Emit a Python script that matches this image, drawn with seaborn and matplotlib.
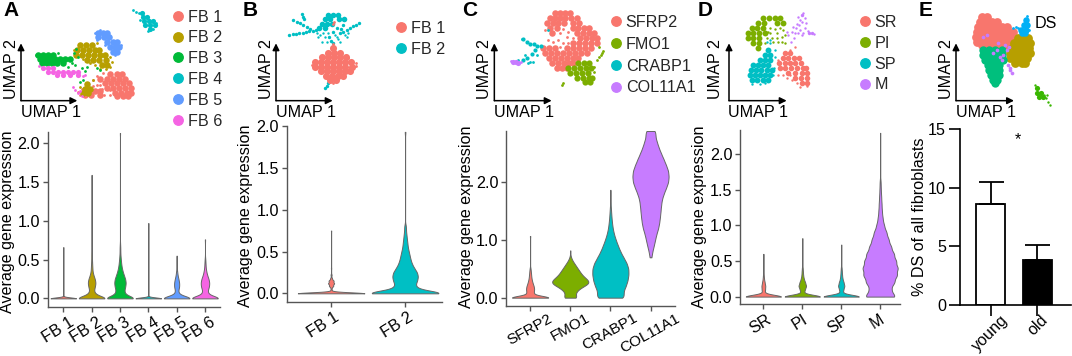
import matplotlib
matplotlib.use("Agg")
import matplotlib.pyplot as plt
from matplotlib.lines import Line2D
from matplotlib.transforms import ScaledTranslation
import numpy as np
import seaborn as sns

RED, OLIVE, GREEN, TEAL, BLUE, PINK = "#F8766D", "#B79F00", "#00BA38", "#00BFC4", "#619CFF", "#F564E3"
C_OLIVE, C_PURPLE = "#7CAE00", "#C77CFF"

# ---- violin data: expression level and number of cells at that level
a_cats = ["FB 1", "FB 2", "FB 3", "FB 4", "FB 5", "FB 6"]
a_colors = [RED, OLIVE, GREEN, TEAL, BLUE, PINK]
a_vals = [
    [0, 0.66],
    [0, .05, .1, .15, .2, .25, .3, .35, .4, .45, .5, .55, .6, .7, 1.59],
    [0, .05, .1, .15, .2, .25, .3, .35, .4, .45, .5, .55, .6, .65, .7, 2.13],
    [0, 0.97],
    [0, .05, .1, .15, .2, .25, .3, .35, .55],
    [0, .05, .1, .15, .2, .25, .3, .35, .4, .45, .5, .76],
]
a_counts = [
    [100, 1],
    [100, 22, 12, 18, 22, 18, 10, 5, 4, 3, 2, 2, 1, 1, 1],
    [100, 30, 24, 30, 33, 30, 22, 15, 10, 7, 5, 3, 2, 2, 1, 1],
    [100, 1],
    [100, 12, 8, 14, 14, 10, 5, 3, 1],
    [100, 18, 14, 22, 24, 20, 12, 7, 4, 3, 2, 1],
]
a_bw = [.012, .03, .03, .012, .03, .03]

b_cats = ["FB 1", "FB 2"]
b_colors = [RED, TEAL]
b_vals = [
    [0, .03, .06, .09, .12, .15, .18, .22, .3, .75],
    [0, .05, .1, .15, .2, .25, .3, .35, .4, .45, .5, .55, .6, .65, .7, .75, .8, 1.93],
]
b_counts = [
    [200, 4, 3, 12, 17, 14, 5, 3, 1, 1],
    [100, 28, 22, 26, 28, 26, 20, 15, 12, 10, 8, 6, 5, 4, 3, 2, 2, 1],
]
b_bw = [.012, .03]

c_cats = ["SFRP2", "FMO1", "CRABP1", "COL11A1"]
c_colors = [RED, C_OLIVE, TEAL, C_PURPLE]
c_vals = [
    [0, .05, .1, .15, .2, .25, .3, .35, .4, .45, .5, 1.07],
    [0, .05, .1, .15, .2, .25, .3, .35, .4, .45, .5, .55, .6, .65, .7, .82],
    [0, .1, .2, .3, .4, .5, .6, .7, .8, .9, 1.0, 1.1, 1.2, 1.3, 1.4, 1.5, 1.6, 1.87],
    [.7, .8, .9, 1, 1.1, 1.2, 1.3, 1.4, 1.5, 1.6, 1.7, 1.8, 1.9, 2, 2.1, 2.2, 2.3, 2.4, 2.5, 2.6, 2.7, 2.8, 2.89],
]
c_counts = [
    [100, 14, 14, 16, 14, 10, 7, 5, 4, 3, 2, 1],
    [42, 25, 30, 45, 70, 100, 95, 75, 60, 50, 40, 30, 20, 10, 4, 1],
    [80, 70, 85, 95, 100, 100, 90, 72, 55, 42, 30, 20, 13, 9, 6, 4, 2, 1],
    [5, 10, 18, 25, 32, 42, 48, 52, 55, 58, 62, 72, 85, 97, 100, 97, 85, 72, 58, 45, 35, 25, 25],
]
c_bw = [.03, .04, .06, .06]

d_cats = ["SR", "PI", "SP", "M"]
d_colors = [RED, C_OLIVE, TEAL, C_PURPLE]
d_vals = [
    [0, .05, .1, .15, .2, .25, .3, .6],
    [0, .05, .1, .15, .2, .25, .3, .35, .4, .82],
    [0, .05, .1, .15, .2, .25, .3, .35, .4, .73],
    [0, .1, .2, .3, .4, .5, .6, .7, .8, .9, 1, 1.1, 1.2, 1.3, 1.4, 1.5, 1.6, 2.3],
]
d_counts = [
    [100, 5, 8, 9, 6, 3, 2, 1],
    [100, 6, 12, 18, 13, 7, 4, 3, 2, 1],
    [100, 6, 10, 15, 11, 6, 4, 3, 2, 1],
    [90, 60, 80, 95, 100, 90, 78, 62, 48, 36, 22, 14, 10, 8, 6, 4, 3, 1],
]
d_bw = [.025, .025, .025, .05]

# ---- bar panel
e_groups = ["young", "old"]
e_means = [8.65, 3.85]
e_errs = [1.85, 1.3]

# ---- UMAP clouds, arbitrary embedding units; dense parts as (row, [positions in that row])
a_fb1_rows = [(222, [330, 350, 365]), (236, [300, 320, 340, 358, 376]), (250, [316, 334, 352, 370, 386]),
              (264, [320, 338, 356, 374, 392]), (278, [345, 362, 380, 392]), (288, [350, 368, 385]),
              (272, [268, 284, 300]), (284, [255, 272, 300])]
a_fb1_dots = [(235, 275), (280, 240), (290, 228), (310, 218), (262, 262), (245, 268), (300, 255), (330, 285), (290, 255),
              (312, 285), (278, 258), (305, 268), (318, 265), (240, 285), (330, 270)]
a_fb2_rows = [(135, [240, 258, 275]), (150, [230, 248, 266, 284, 298]), (165, [228, 246, 264, 282, 300, 315]),
              (180, [262, 280, 298, 318]), (195, [305, 322]), (252, [262]), (266, [256, 270]), (280, [250, 264])]
a_fb2_dots = [(335, 185), (330, 172), (300, 208), (222, 150), (290, 130), (240, 262), (280, 240), (250, 178), (285, 195),
              (270, 190), (330, 200), (318, 208)]
a_fb3_rows = [(165, [115, 130, 145, 160]), (178, [120, 135, 150, 165, 180, 195, 210]), (190, [125, 140, 155, 172, 190])]
a_fb3_dots = [(108, 165), (225, 195), (245, 205), (240, 245), (250, 240), (290, 205), (215, 190), (235, 215), (205, 200),
              (300, 210), (260, 200), (222, 160), (228, 148), (175, 160), (255, 212), (235, 170)]
a_fb5_rows = [(98, [295, 310, 322]), (112, [295, 312, 328]), (126, [322, 338, 350]), (140, [330, 345, 358]), (155, [340, 352])]
a_fb5_dots = [(285, 100), (300, 90), (290, 120), (345, 165), (362, 135), (315, 135)]
a_fb6_rows = [(205, [130, 145, 160]), (215, [145, 160, 175, 190, 205, 220, 235]), (225, [170, 190, 210, 235])]
a_fb6_dots = [(118, 198), (250, 228), (218, 262), (226, 270), (235, 280), (245, 288), (240, 272), (255, 225)]
a_fb4_rows = [(38, [425]), (50, [428, 442]), (62, [432, 448, 460]), (75, [435, 450, 465]), (88, [450])]
a_fb4_dots = [(398, 30), (408, 35), (416, 38), (445, 94), (468, 70), (420, 60), (460, 88)]

b_fb1_rows = [(145, [1000]), (158, [985, 1003, 1020]), (172, [965, 983, 1001, 1019, 1037]),
              (186, [945, 963, 981, 999, 1017, 1035, 1053]), (200, [945, 963, 981, 999, 1017, 1035, 1055]),
              (214, [962, 980, 998, 1016, 1034, 1050]), (228, [978, 996, 1014, 1030]), (240, [990, 1008])]
b_fb1_dots = [(1000, 132), (1003, 65), (998, 72), (1000, 250), (1068, 188), (935, 195), (1067, 198), (1045, 175)]
b_fb2_rows = [(45, [985, 1000, 1015]), (58, [975, 990, 1018, 1032]), (72, [965, 980, 995]), (85, [958, 975])]
b_fb2_thin = [(868, 105), (878, 103), (888, 102), (898, 100), (908, 98), (918, 96), (928, 94), (938, 92), (948, 90),
              (880, 60), (890, 65), (900, 70), (910, 76), (920, 82), (930, 87), (905, 42), (908, 50), (912, 58),
              (1020, 100), (1030, 95), (1040, 90), (1050, 85), (1060, 78), (1068, 74), (1076, 70),
              (988, 112), (992, 122), (998, 130), (975, 265), (980, 258), (984, 250), (988, 242),
              (1010, 85), (1000, 95), (1030, 75), (1022, 88)]
b_fb2_dots = [(965, 125), (975, 110), (1010, 110), (1040, 112), (955, 110), (1020, 125), (985, 100), (970, 100), (1005, 105),
              (960, 105), (1015, 118), (980, 125), (950, 100), (1045, 100), (1035, 105)]

c_sfrp2_rows = [(40, [585, 600, 615, 630]), (55, [570, 585, 600, 615, 632, 650]), (70, [562, 578, 595, 612, 640, 658]),
                (85, [570, 590, 640, 655, 672, 688]), (100, [575, 650, 668, 686, 702]), (115, [660, 678, 696, 712]),
                (130, [640, 658, 676, 694, 710]), (145, [550, 566, 584, 620, 640, 658, 676, 694]),
                (160, [555, 572, 590, 610, 628, 646, 664, 680]), (175, [568, 586, 604, 622, 640, 655]),
                (190, [575, 593, 611, 628, 640]), (205, [590, 605, 620])]
c_sfrp2_dots = [(555, 90), (600, 100), (620, 110), (625, 95), (640, 115), (715, 125), (545, 140), (565, 120), (610, 88),
                (610, 130), (595, 120), (580, 125), (625, 130), (600, 140)]
c_fmo1_rows = [(190, [655, 672, 688]), (205, [625, 642, 660, 678, 692]), (220, [630, 648, 666, 684]),
               (235, [650, 668, 686, 695]), (245, [675, 690])]
c_fmo1_dots = [(722, 165), (730, 152), (712, 180), (605, 255), (702, 215), (726, 158), (716, 172), (610, 250), (703, 200), (718, 140)]
c_crabp1_rows = [(118, [490]), (125, [500]), (131, [510, 522]), (138, [530, 542]), (150, [525]), (162, [515]), (175, [500]), (180, [488])]
c_crabp1_dots = [(485, 116), (520, 187), (505, 190), (565, 90), (475, 180), (530, 165), (510, 185), (495, 165)]
c_col11a1_rows = [(185, [458, 468]), (189, [474])]
c_col11a1_dots = [(452, 183), (482, 186)]

d_pi_rows = [(55, [130, 148, 165, 180]), (70, [115, 132, 170, 188]), (85, [95, 110, 128]), (100, [85, 100, 118, 135]),
             (115, [85, 100, 118]), (130, [100, 118]), (145, [115])]
d_pi_dots = [(185, 110), (170, 100), (150, 100), (195, 130), (160, 125), (190, 90), (140, 115), (175, 125), (150, 85), (165, 88),
             (180, 85), (195, 105), (155, 115), (145, 95), (135, 130), (185, 125), (170, 115)]
d_sp_rows = [(150, [145]), (165, [135, 150]), (180, [120, 135, 150]), (195, [100, 115, 130, 145]), (210, [92, 108, 124, 140, 155]),
             (225, [90, 105, 120, 136, 150]), (240, [95, 110, 128, 145])]
d_sp_dots = [(150, 130), (165, 170), (162, 205), (95, 252), (120, 252), (150, 120), (140, 125), (165, 150), (160, 225), (135, 250)]
d_sr_rows = [(160, [195, 210]), (175, [190, 205, 222, 238]), (190, [178, 194, 210, 226, 242]),
             (205, [180, 195, 212, 230, 248, 258]), (220, [205, 225, 245, 262]), (235, [225, 243, 262]), (250, [245, 260])]
d_sr_dots = [(175, 225), (190, 225), (240, 262), (210, 150), (215, 240), (262, 258), (200, 235), (225, 140), (175, 180), (230, 250), (210, 225)]
d_m_rows = [(45, [245]), (100, [268, 276])]
d_m_dots = [(250, 40), (240, 60), (255, 55), (238, 75), (228, 85), (215, 95), (205, 105), (255, 85), (265, 92), (282, 103), (250, 100),
            (235, 98), (225, 100), (258, 70), (235, 50), (245, 65), (230, 72), (200, 95), (222, 115), (212, 125), (240, 90), (218, 82), (245, 105)]

e_red_rows = [(50, [785, 800]), (65, [780, 798, 815, 832]), (80, [775, 792, 810, 828, 846, 860]),
              (95, [770, 788, 806, 824, 842, 860, 878]), (110, [768, 786, 804, 822, 840, 858, 874]),
              (125, [772, 790, 808, 826, 844, 862]), (135, [785, 805, 825, 845, 865])]
e_yel_rows = [(115, [895, 912, 925]), (130, [882, 900, 918, 930]), (145, [875, 893, 911, 928]), (160, [870, 888, 906, 924, 930]),
              (175, [870, 886, 904, 920]), (190, [885, 905, 915])]
e_teal_rows = [(150, [790, 808, 825, 845]), (165, [790, 808, 826, 845]), (180, [795, 813, 831, 850]), (195, [803, 820, 838]),
               (210, [808, 825, 838]), (225, [812, 828, 838]), (240, [818, 832]), (250, [825])]
e_blue_rows = [(60, [918]), (75, [912, 922]), (90, [902, 918]), (100, [905, 915])]
e_blue_dots = [(880, 85), (895, 85), (927, 90), (920, 48), (888, 80)]
e_purple_dots = [(870, 210), (840, 170), (800, 105), (860, 150), (875, 218), (865, 195), (830, 150), (820, 160), (850, 165),
                 (855, 135), (870, 205), (790, 110), (845, 180), (835, 130), (868, 140)]
e_green_rows = [(265, [950]), (280, [952, 962]), (292, [958, 968])]
e_green_dots = [(945, 255), (985, 305), (978, 295), (990, 315), (972, 285), (980, 285)]

W, H = 1072, 356
FS = 11.6
EDGE = "#666666"

sns.set_theme(style="ticks")
plt.rcParams["font.family"] = ["Liberation Sans", "DejaVu Sans"]

fig = plt.figure(figsize=(W / 100, H / 100), dpi=100)


def px_axes(left, top, right, bottom):
    return fig.add_axes([left / W, 1 - bottom / H, (right - left) / W, (bottom - top) / H])


def style_axes(ax, lw=1.0, color="#555555", angle=32, shift=-4):
    sns.despine(ax=ax)
    for side in ["left", "bottom"]:
        ax.spines[side].set_linewidth(lw)
        ax.spines[side].set_color(color)
    ax.tick_params(axis="both", labelsize=FS, length=3.5, width=lw, color=color, pad=2, labelcolor="black")
    ax.set_xlabel("")
    nudge = ScaledTranslation(shift / 72, 0, fig.dpi_scale_trans)
    for lab in ax.get_xticklabels():
        lab.set_rotation(angle)
        lab.set_ha("center")
        lab.set_transform(lab.get_transform() + nudge)


def violins(box, cats, colors, vals, counts, bws, xlim, ylim, yticks, ylab, shift, angle=32):
    ax = px_axes(*box)
    for cat, col, v, n, h in zip(cats, colors, vals, counts, bws):
        sample = np.repeat(v, n)
        sns.violinplot(x=[cat] * len(sample), y=sample, order=cats, color=col, ax=ax, width=0.9, cut=0,
                       inner=None, density_norm="width", linewidth=0.7, linecolor=EDGE, saturation=1,
                       bw_method=h / np.std(sample, ddof=1), gridsize=600)
    ax.set_xlim(*xlim)
    ax.set_ylim(*ylim)
    ax.set_yticks(yticks)
    ax.set_yticklabels([f"{t:.1f}" for t in yticks])
    style_axes(ax, shift=shift, angle=angle)
    ax.set_ylabel("Average gene expression", fontsize=FS, color="black")
    ax.yaxis.set_label_coords((ylab[0] - box[0]) / (box[2] - box[0]), ylab[1])
    return ax


def umap_axes(offset, x0, x1, y0, y1, origin, arrow_x, arrow_y, lab1, lab2):
    ax = px_axes(offset + x0 / 3, y0 / 3, offset + x1 / 3, y1 / 3)
    ax.set_xlim(x0, x1)
    ax.set_ylim(y1, y0)
    ax.axis("off")
    for tip in [(arrow_x, origin[1]), (origin[0], arrow_y)]:
        ax.annotate("", xy=tip, xytext=origin, arrowprops=dict(arrowstyle="-|>", color="black", lw=1.1,
                                                               shrinkA=0, shrinkB=0, mutation_scale=10))
    ax.text(lab1[0], lab1[1], "UMAP 1", fontsize=FS, ha="center", va="center", color="black")
    ax.text(lab2[0], lab2[1], "UMAP 2", fontsize=FS, ha="center", va="center", rotation=90, color="black")
    return ax


def cloud(ax, pts, color, s):
    xs, ys = zip(*pts)
    sns.scatterplot(x=list(xs), y=list(ys), color=color, s=s, linewidth=0, ax=ax, legend=False)
    ax.set_xlabel("")
    ax.set_ylabel("")


def from_rows(rows):
    return [(x, y) for y, xs in rows for x in xs]


def legend(labels, colors, x, y, spacing=0.36):
    handles = [Line2D([], [], marker="o", ls="", ms=6.8, mfc=c, mec=c) for c in colors]
    fig.legend(handles, labels, loc="upper left", bbox_to_anchor=(x / W, 1 - y / H), frameon=False, fontsize=FS,
               borderpad=0, borderaxespad=0, handlelength=0.7, handletextpad=0.25, labelspacing=spacing)


# panel A
ax = umap_axes(0, 20, 490, 10, 350, (63, 302), 232, 130, (153, 338), (35, 208))
for rows, dots, col in [(a_fb1_rows, a_fb1_dots, RED), (a_fb2_rows, a_fb2_dots, OLIVE), (a_fb3_rows, a_fb3_dots, GREEN),
                        (a_fb5_rows, a_fb5_dots, BLUE), (a_fb6_rows, a_fb6_dots, PINK), (a_fb4_rows, a_fb4_dots, TEAL)]:
    cloud(ax, from_rows(rows), col, 14 if rows is a_fb6_rows or rows is a_fb4_rows else 22)
    cloud(ax, dots, col, 4)
legend(a_cats, a_colors, 172.5, 9.5)
violins((47.7, 131.7, 220, 306.7), a_cats, a_colors, a_vals, a_counts, a_bw, (-0.55, 5.53), (-0.107, 2.146),
        [0, .5, 1, 1.5, 2], (15, .485), -4)

# panel B
ax = umap_axes(0, 770, 1090, 10, 350, (828, 302), 998, 130, (918, 338), (800, 208))
cloud(ax, from_rows(b_fb2_rows), TEAL, 16)
cloud(ax, b_fb2_thin, TEAL, 6)
cloud(ax, b_fb2_dots, TEAL, 3)
cloud(ax, from_rows(b_fb1_rows), RED, 26)
cloud(ax, b_fb1_dots, RED, 4)
legend(b_cats, b_colors, 395.5, 21)
violins((286.7, 126, 441.7, 301.7), b_cats, b_colors, b_vals, b_counts, b_bw, (-0.6, 1.495), (-0.1, 2.0),
        [0, .5, 1, 1.5, 2], (253, .487), -5.5)

# panel C
ax = umap_axes(360, 350, 745, 10, 350, (403, 302), 575, 130, (492, 338), (373, 208))
cloud(ax, from_rows(c_sfrp2_rows), RED, 22)
cloud(ax, c_sfrp2_dots, RED, 4)
cloud(ax, from_rows(c_fmo1_rows), C_OLIVE, 20)
cloud(ax, c_fmo1_dots, C_OLIVE, 4)
cloud(ax, from_rows(c_crabp1_rows), TEAL, 9)
cloud(ax, c_crabp1_dots, TEAL, 4)
cloud(ax, from_rows(c_col11a1_rows), C_PURPLE, 14)
cloud(ax, c_col11a1_dots, C_PURPLE, 4)
legend(c_cats, c_colors, 610.4, 15, spacing=0.42)
ax = violins((506, 131, 675, 305.7), c_cats, c_colors, c_vals, c_counts, c_bw, (-0.6, 3.61), (-0.139, 2.89),
             [0, 1, 2], (474, .51), -4.5, angle=29)
ax.tick_params(axis="x", labelsize=11, pad=0.5)

# panel D
ax = umap_axes(720, 0, 300, 10, 350, (27, 302), 200, 130, (115, 338), (-12, 208))
for rows, dots, col, s in [(d_pi_rows, d_pi_dots, C_OLIVE, 18), (d_sp_rows, d_sp_dots, TEAL, 18),
                           (d_sr_rows, d_sr_dots, RED, 16), (d_m_rows, d_m_dots, C_PURPLE, 6)]:
    cloud(ax, from_rows(rows), col, s)
    cloud(ax, dots, col, 3)
legend(d_cats, d_colors, 859.4, 15)
violins((740, 130, 900, 304.3), d_cats, d_colors, d_vals, d_counts, d_bw, (-0.6, 3.51), (-0.108, 2.34),
        [0, .5, 1, 1.5, 2], (707, .505), -2)

# panel E
ax = umap_axes(720, 640, 1040, 10, 350, (708, 302), 882, 130, (798, 338), (680, 208))
cloud(ax, from_rows(e_red_rows), RED, 40)
cloud(ax, from_rows(e_yel_rows), OLIVE, 40)
cloud(ax, from_rows(e_teal_rows), "#00BF7D", 36)
cloud(ax, from_rows(e_blue_rows), "#00B0F6", 22)
cloud(ax, e_blue_dots, "#00B0F6", 4)
cloud(ax, e_purple_dots, "#C77CFF", 7)
cloud(ax, from_rows(e_green_rows), "#39B600", 14)
cloud(ax, e_green_dots, "#39B600", 3)
ax.text(943, 72, "DS", fontsize=FS, va="center", color="black")

ax = px_axes(960, 129.3, 1071, 305)
sns.barplot(x=e_groups, y=e_means, hue=e_groups, palette=["white", "black"], width=0.62, edgecolor="black", linewidth=1.3,
            saturation=1, legend=False, ax=ax)
ax.errorbar(e_groups, e_means, yerr=[[0, 0], e_errs], fmt="none", ecolor="black", elinewidth=1.3, capsize=9, capthick=1.3)
ax.set_xlim(-0.657, 1.72)
ax.set_ylim(0, 15)
ax.set_yticks([0, 5, 10, 15])
style_axes(ax, lw=1.2, color="black", angle=45, shift=2)
ax.tick_params(axis="both", length=8)
ax.tick_params(axis="x", pad=-3)
ax.set_ylabel("% DS of all fibroblasts", fontsize=FS, color="black")
ax.yaxis.set_label_coords((927 - 960) / 111, 0.5)
ax.text(0.58, 14.1, "*", fontsize=FS, ha="center", va="center", color="black")

for letter, x in zip("ABCDE", [3, 243, 462, 698, 919]):
    fig.text(x / W, 1 - 11 / H, letter, fontsize=15, fontweight="bold", va="center", color="black")

fig.savefig("out.png", dpi=100)
